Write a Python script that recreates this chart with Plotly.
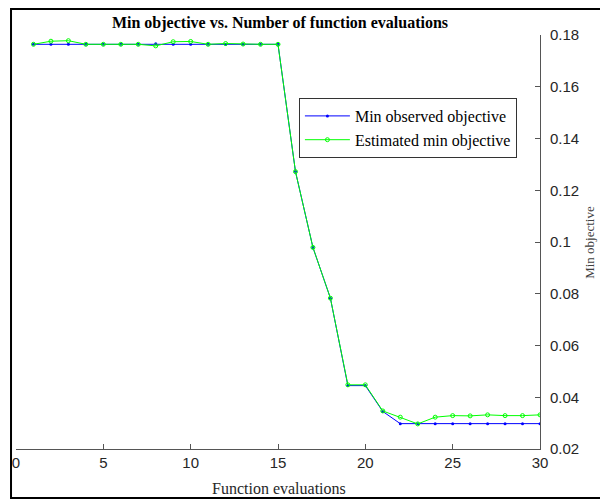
import plotly.graph_objects as go

evals = list(range(1, 31))
min_observed = [0.1764, 0.1764, 0.1764, 0.1764, 0.1764, 0.1764, 0.1764, 0.1766, 0.1764, 0.1764,
                0.1764, 0.1764, 0.1764, 0.1764, 0.1764, 0.1272, 0.0979, 0.0783, 0.0445, 0.0445,
                0.0345, 0.0298, 0.0298, 0.0298, 0.0298, 0.0298, 0.0298, 0.0298, 0.0298, 0.0298]
est_min = [0.1764, 0.1776, 0.1778, 0.1764, 0.1764, 0.1764, 0.1764, 0.1758, 0.1774, 0.1775,
           0.1764, 0.1767, 0.1765, 0.1764, 0.1764, 0.1272, 0.0979, 0.0783, 0.0448, 0.0448,
           0.0347, 0.0323, 0.0297, 0.0323, 0.0329, 0.0328, 0.0332, 0.0329, 0.0329, 0.0332]
x_ticks = [0, 5, 10, 15, 20, 25, 30]
y_ticks = [0.02, 0.04, 0.06, 0.08, 0.1, 0.12, 0.14, 0.16, 0.18]
y_ticktext = ["0.02", "0.04", "0.06", "0.08", "0.1", "0.12", "0.14", "0.16", "0.18"]

serif = "Liberation Serif, Times New Roman, serif"
sans = "Liberation Sans, Arial, sans-serif"

fig = go.Figure()
fig.add_trace(go.Scatter(x=evals, y=min_observed, mode="lines+markers",
                         name="Min observed objective",
                         line=dict(color="#0000FF", width=1),
                         marker=dict(symbol="circle", size=3, color="#0000FF")))
fig.add_trace(go.Scatter(x=evals, y=est_min, mode="lines+markers",
                         name="Estimated min objective",
                         line=dict(color="#00FF00", width=1),
                         marker=dict(symbol="circle-open", size=4, color="#00FF00", line=dict(width=1))))

L, R, T, B = 14, 60, 35, 51
W, H = 600, 500
pw, ph = W - L - R, H - T - B

def px(p):
    return (p - L) / pw

def py(p):
    return (H - B - p) / ph

fig.update_layout(
    width=W, height=H,
    margin=dict(l=L, r=R, t=T, b=B),
    plot_bgcolor="white", paper_bgcolor="white",
    showlegend=True,
    title=dict(text="<b>Min objective vs. Number of function evaluations</b>",
               x=px(279), xref="paper", xanchor="center",
               y=1 - 22 / H, yanchor="middle",
               font=dict(family=serif, size=16, color="#000000")),
    legend=dict(x=px(298), y=py(98), xanchor="left", yanchor="top",
                bgcolor="white", bordercolor="#333333", borderwidth=1,
                font=dict(family=serif, size=16, color="#000000"),
                tracegroupgap=0, itemwidth=45),
    xaxis=dict(range=[0, 30], tickvals=x_ticks, showgrid=False, zeroline=False,
               showline=True, linecolor="#555555", linewidth=1,
               ticks="inside", ticklen=5, tickcolor="#555555",
               tickfont=dict(family=sans, size=15, color="#262626")),
    yaxis=dict(range=[0.02, 0.18], tickvals=y_ticks, ticktext=y_ticktext, side="right",
               showgrid=False, zeroline=False,
               showline=True, linecolor="#555555", linewidth=1,
               ticks="inside", ticklen=5, tickcolor="#555555", ticklabelstandoff=6,
               tickfont=dict(family=sans, size=15, color="#262626")),
    annotations=[
        dict(text="Function evaluations", xref="paper", yref="paper",
             x=px(278), y=py(488), xanchor="center", yanchor="middle", showarrow=False,
             font=dict(family=serif, size=16, color="#262626")),
        dict(text="Min objective", xref="paper", yref="paper", textangle=-90,
             x=px(589), y=py(242), xanchor="center", yanchor="middle", showarrow=False,
             font=dict(family=serif, size=13, color="#404040")),
    ],
    shapes=[
        dict(type="rect", xref="paper", yref="paper",
             x0=px(9), x1=px(640), y0=py(498), y1=py(9),
             line=dict(color="#000000", width=2), fillcolor="rgba(0,0,0,0)", layer="above"),
    ],
)

fig.write_html("out.html")
